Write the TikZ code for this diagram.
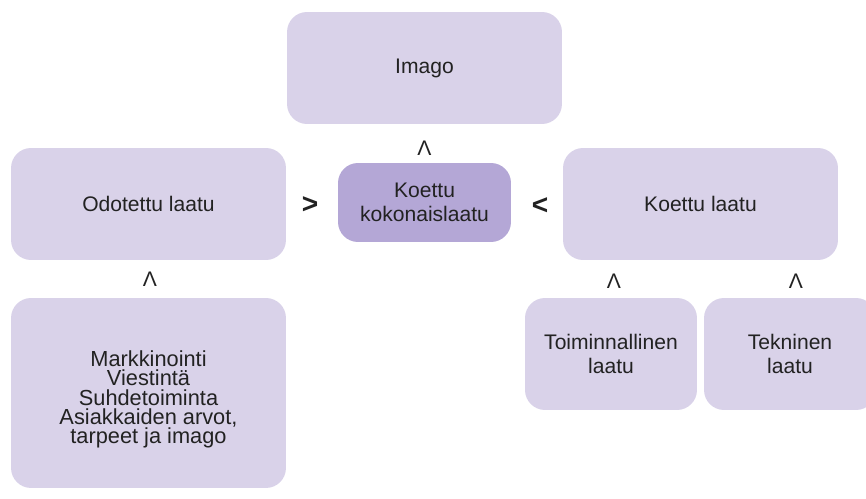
\documentclass[tikz,border=0pt]{standalone}
\usepackage{fontspec}
\setmainfont{Liberation Sans}
\usepackage{xcolor}
\definecolor{lilac}{HTML}{D9D2E9}
\definecolor{lilacdark}{HTML}{B4A7D6}
\definecolor{ink}{HTML}{222222}

\begin{document}
\begin{tikzpicture}[x=0.02cm,y=-0.02cm,
    box/.style={fill=lilac,rounded corners=0.4cm,align=center,text=ink,
      font=\fontsize{12}{13.6}\selectfont,inner sep=0pt},
    sign/.style={text=ink,font=\fontsize{12}{13.6}\selectfont,inner sep=0pt},
    bigsign/.style={sign,font=\fontsize{16}{18}\selectfont\bfseries}]
  \clip (0,0) rectangle (866,499);
  % Top
  \node[box,minimum width=5.5cm,minimum height=2.24cm] (imago) at (424.5,68) {Imago};
  % Middle row
  \node[box,minimum width=5.5cm,minimum height=2.24cm] (odotettu) at (148.5,204) {Odotettu laatu};
  \node[box,fill=lilacdark,minimum width=3.46cm,minimum height=1.58cm] (kokonais) at (424.5,202.5) {Koettu\\kokonaislaatu};
  \node[box,minimum width=5.5cm,minimum height=2.24cm] (koettu) at (700.5,204) {Koettu laatu};
  % Bottom row
  \node[box,font=\fontsize{12.4}{11}\selectfont,minimum width=5.5cm,minimum height=3.8cm] (markkinointi) at (148.5,393)
    {\rule{0pt}{0.58cm}Markkinointi\\Viestintä\\Suhdetoiminta\\Asiakkaiden arvot,\\tarpeet ja imago};
  \node[box,minimum width=3.44cm,minimum height=2.24cm] (toiminnallinen) at (611,354) {Toiminnallinen\\laatu};
  \node[box,minimum width=3.44cm,minimum height=2.24cm] (tekninen) at (790,354) {Tekninen\\laatu};
  % Signs
  \node[sign] (s1) at (424.5,148) {Λ};
  \node[bigsign] (s2) at (310,205) {>};
  \node[bigsign] (s3) at (540,206) {<};
  \node[sign] (s4) at (150,279) {Λ};
  \node[sign] (s5) at (614,281) {Λ};
  \node[sign] (s6) at (796,281) {Λ};
\end{tikzpicture}
\end{document}
